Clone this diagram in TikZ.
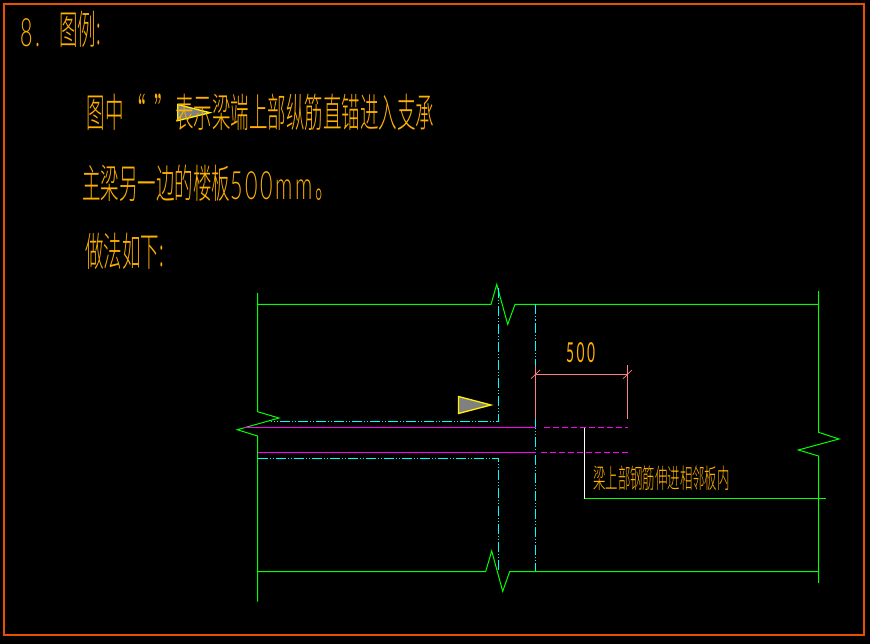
\documentclass[tikz,border=0pt]{standalone}
\usepackage{fontspec}
\setmainfont{Liberation Sans}
\newfontfamily\cjkbig[FakeStretch=0.4625]{Noto Sans CJK SC Light}
\newfontfamily\cjksmall[FakeStretch=0.46]{Noto Sans CJK SC Light}
\newfontfamily\digbig[FakeStretch=0.55,LetterSpace=7]{Lato Light}
\newfontfamily\digsmall[FakeStretch=0.5,LetterSpace=9]{Lato}
\definecolor{txtor}{RGB}{255,176,0}
\definecolor{framec}{RGB}{230,80,0}
\definecolor{grn}{RGB}{0,255,0}
\definecolor{cyn}{RGB}{0,255,255}
\definecolor{mag}{RGB}{255,0,255}
\definecolor{pnk}{RGB}{255,127,127}
\begin{document}
\begin{tikzpicture}[x=1pt,y=-1pt,
  bigtext/.style={inner sep=0pt,anchor=base west,text=txtor,font=\cjkbig\fontsize{40}{40}\selectfont},
  bigdig/.style={inner sep=0pt,anchor=base west,text=txtor,font=\digbig\fontsize{39}{39}\selectfont},
  smalltext/.style={inner sep=0pt,anchor=base west,text=txtor,font=\cjksmall\fontsize{27}{27}\selectfont},
  smalldig/.style={inner sep=0pt,anchor=base west,text=txtor,font=\digsmall\fontsize{27.5}{27.5}\selectfont},
  wall/.style={grn,line width=1pt,line join=miter},
  axisline/.style={cyn,line width=1pt,dash pattern=on 10pt off 2pt on 1pt off 2pt on 1pt off 2pt},
  rebar/.style={mag,line width=1pt},
  rebardash/.style={mag,line width=1pt,dash pattern=on 6pt off 3pt},
  dimline/.style={pnk,line width=1pt},
  leader/.style={white,line width=1pt},
  marker/.style={draw=yellow,fill=gray,line width=1.3pt,line join=miter}]
\useasboundingbox (0,0) rectangle (870,644);
\fill[black] (0,0) rectangle (870,644);
\draw[framec,line width=2pt] (4,4) rectangle (863.5,635);

% walls
\draw[wall] (257.5,293) -- (257.5,411.7) -- (279,418) -- (237.3,429.7) -- (257.5,436) -- (257.5,601.5);
\draw[wall] (257.5,304.5) -- (491,304.5) -- (496.7,284.5) -- (507.7,324.3) -- (515,304.5) -- (818.5,304.5);
\draw[wall] (818.5,291) -- (818.5,432.3) -- (839,439) -- (798.3,450) -- (818.5,456) -- (818.5,583);
\draw[wall] (257.5,571.5) -- (485.7,571.5) -- (491.7,551) -- (502.7,591.3) -- (509.7,571.5) -- (818.5,571.5);

% axes
\draw[axisline] (498.5,288) -- (498.5,421.5) -- (271,421.5);
\draw[axisline] (257.5,458.5) -- (498.5,458.5) -- (498.5,571);
\draw[axisline] (535.5,304.5) -- (535.5,366);
\draw[axisline] (535.5,419) -- (535.5,571);

% rebar
\draw[rebar] (244,427.5) -- (535.5,427.5);
\draw[rebardash] (544,427.5) -- (628,427.5);
\draw[rebar] (258,452.5) -- (535.5,452.5);
\draw[rebardash] (541,452.5) -- (628,452.5);

% dimension
\coordinate (dimA) at (535.5,374.5);
\coordinate (dimB) at (627.5,374.5);
\draw[dimline] (dimA) -- (dimB);
\draw[dimline] (535.5,366) -- (535.5,419);
\draw[dimline] (627.5,365) -- (627.5,418.7);
\draw[dimline,line width=.7pt] (531,378.7) -- (540,370);
\draw[dimline,line width=.7pt] (623,378.7) -- (632,370);

% leader
\draw[leader] (584.5,427.5) -- (584.5,498.5);
\draw[wall] (584.5,498.5) -- (825.7,498.5);

% markers
\draw[marker] (458.5,396.5) -- (491,405) -- (458.5,413.5) -- cycle;
\draw[marker] (177.7,104.5) -- (210,112.7) -- (177.7,120.7) -- cycle;

% texts
\node[bigdig] (t8) at (20,46.5) {8};
\node[bigdig] (tdot) at (35,46.5) {.};
\node[bigtext] (ttitle) at (59,45) {图例:};
\node[bigtext] (l1a) at (86.5,128) {图中};
\node[bigtext] (l1q) at (127,128) {“};
\node[bigtext] (l1r) at (154,128) {”};
\node[bigtext] (l1b) at (175,128) {表示梁端上部纵筋直锚进入支承};
\node[bigtext] (l2a) at (82,199) {主梁另一边的楼板};
\node[bigdig] (l2b) at (230,200) {500mm};
\node[bigtext] (l2c) at (315,199) {。};
\node[bigtext] (l3) at (85,267) {做法如下:};
\node[smalldig] (dim500) at (566,362) {500};
\node[smalltext] (lab) at (593,488) {梁上部钢筋伸进相邻板内};
\end{tikzpicture}
\end{document}
